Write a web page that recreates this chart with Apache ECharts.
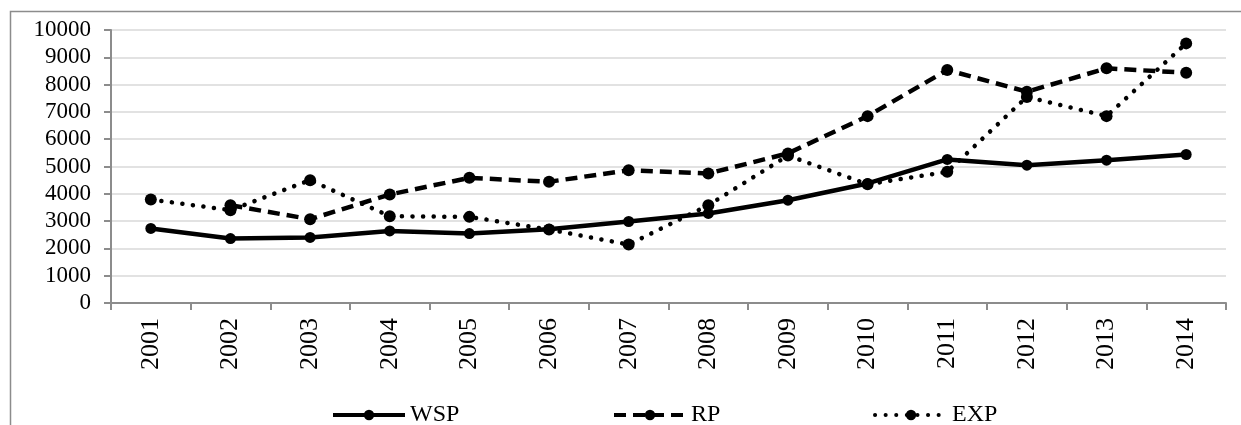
<!DOCTYPE html>
<html>
<head>
<meta charset="utf-8">
<script src="https://cdn.jsdelivr.net/npm/echarts@6/dist/echarts.min.js"></script>
<style>
html,body{margin:0;padding:0;background:#fff;}
#chart{width:1241px;height:425px;}
</style>
</head>
<body>
<div id="chart"></div>
<script>
var years = ['2001','2002','2003','2004','2005','2006','2007','2008','2009','2010','2011','2012','2013','2014'];
var wsp = [2730, 2360, 2400, 2640, 2545, 2700, 2985, 3280, 3765, 4380, 5260, 5050, 5230, 5440];
var rp  = [null, 3580, 3070, 3975, 4585, 4440, 4865, 4745, 5480, 6845, 8535, 7740, 8595, 8435];
var exp = [3790, 3400, 4500, 3180, 3155, 2690, 2140, 3580, 5400, 4350, 4805, 7550, 6845, 9510];
var yTicks = {min: 0, max: 10000, interval: 1000};

var FONT = '"Liberation Serif", "Times New Roman", serif';
var chart = echarts.init(document.getElementById('chart'), null, {renderer: 'canvas'});

function legendAt(name, left) {
  return {
    data: [name], left: left, top: 398, orient: 'horizontal',
    itemWidth: 72, itemHeight: 13, itemGap: 0,
    lineStyle: {width: 4},
    textStyle: {fontFamily: FONT, fontSize: 24, color: '#000', padding: [0, 0, 0, 0]},
    selectedMode: false
  };
}

var option = {
  animation: false,
  backgroundColor: '#fff',
  graphic: [{
    type: 'rect', left: 8, top: 9, z: -1,
    shape: {x: 0, y: 0, width: 1400, height: 600},
    style: {fill: 'none', stroke: '#8c8c8c', lineWidth: 1.5}
  }],
  grid: {left: 111, right: 15, top: 30, bottom: 122, containLabel: false},
  legend: [legendAt('WSP', 326), legendAt('RP', 607), legendAt('EXP', 868)],
  xAxis: {
    type: 'category', data: years, boundaryGap: true,
    axisLine: {lineStyle: {color: '#8c8c8c', width: 2}},
    axisTick: {show: true, length: 7, lineStyle: {color: '#8c8c8c', width: 2}, alignWithLabel: false},
    axisLabel: {rotate: 90, fontFamily: FONT, fontSize: 26, color: '#000', margin: 15},
    splitLine: {show: false}
  },
  yAxis: {
    type: 'value', min: yTicks.min, max: yTicks.max, interval: yTicks.interval,
    axisLine: {show: true, lineStyle: {color: '#8c8c8c', width: 2}},
    axisTick: {show: true, length: 7, lineStyle: {color: '#8c8c8c', width: 2}},
    axisLabel: {fontFamily: FONT, fontSize: 23, color: '#000', margin: 20,
      formatter: function (v) { return String(v); }},
    splitLine: {show: true, lineStyle: {color: '#d9d9d9', width: 1.5}}
  },
  series: [
    {
      name: 'WSP', type: 'line', data: wsp, symbol: 'circle', symbolSize: 11,
      itemStyle: {color: '#000'},
      lineStyle: {color: '#000', width: 4.5, type: 'solid'}, z: 3
    },
    {
      name: 'RP', type: 'line', data: rp, symbol: 'circle', symbolSize: 12,
      itemStyle: {color: '#000'},
      lineStyle: {color: '#000', width: 4.5, type: [12, 7]}, z: 2
    },
    {
      name: 'EXP', type: 'line', data: exp, symbol: 'circle', symbolSize: 12,
      itemStyle: {color: '#000'},
      lineStyle: {color: '#000', width: 4.5, type: [0.1, 10.5], cap: 'round'}, z: 1
    }
  ]
};
chart.setOption(option);
</script>
</body>
</html>
